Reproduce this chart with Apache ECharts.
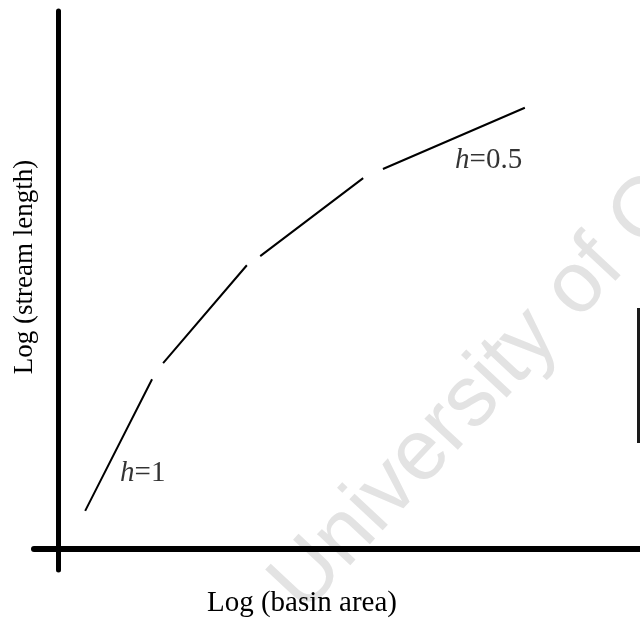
<!DOCTYPE html>
<html>
<head>
<meta charset="utf-8">
<script src="https://cdn.jsdelivr.net/npm/echarts@6/dist/echarts.min.js"></script>
<style>
  html, body { margin: 0; padding: 0; background: #fff; }
  #chart { width: 640px; height: 627px; }
</style>
</head>
<body>
<div id="chart"></div>
<script>
// Piecewise stream-length / basin-area relation, drawn as broken segments.
// Each segment is a pair of points; null separates the pieces.
const logArea   = [4.6, 16.1, null, 18.0, 32.4, null, 34.7, 52.4, null, 55.8, 80.2];
const logLength = [7.0, 31.5, null, 34.5, 52.7, null, 54.4, 68.9, null, 70.6, 82.0];

// Slope annotations: [x, y, exponent text]
const slopeLabels = [
  [10.6, 11.3, '1'],
  [68.2, 69.6, '0.5']
];

const xTitle = 'Log (basin area)';
const yTitle = 'Log (stream length)';
const watermark = 'University of Cape Town';

const serif = '"Liberation Serif", "Times New Roman", serif';

const chart = echarts.init(document.getElementById('chart'));

const option = {
  backgroundColor: '#ffffff',
  animation: false,
  grid: { left: 34, right: 0, top: 11, bottom: 57, containLabel: false },
  xAxis: {
    type: 'value', min: -4.2, max: 100,
    axisLine: { show: true, onZero: true, lineStyle: { color: '#000', width: 6 } },
    axisTick: { show: false }, axisLabel: { show: false }, splitLine: { show: false }
  },
  yAxis: {
    type: 'value', min: -4, max: 100,
    axisLine: { show: true, onZero: true, lineStyle: { color: '#000', width: 5 } },
    axisTick: { show: false }, axisLabel: { show: false }, splitLine: { show: false }
  },
  graphic: [
    {
      type: 'text', z: -10, silent: true,
      x: 318, y: 628, rotation: 47 * Math.PI / 180,
      style: {
        text: watermark, x: 0, y: 0, align: 'left', verticalAlign: 'bottom',
        fill: '#e3e3e3', font: '86px "Liberation Sans", Arial, sans-serif'
      }
    },
    {
      type: 'rect', silent: true,
      shape: { x: 637, y: 308, width: 3, height: 135 },
      style: { fill: '#1a1a1a' }
    },
    {
      type: 'text', silent: true,
      x: 302, y: 618,
      style: {
        text: xTitle, align: 'center', verticalAlign: 'bottom',
        fill: '#000', font: '29px ' + serif
      }
    },
    {
      type: 'text', silent: true,
      x: 25, y: 267, rotation: Math.PI / 2,
      style: {
        text: yTitle, align: 'center', verticalAlign: 'middle',
        fill: '#000', font: '27px ' + serif
      }
    }
  ],
  series: [
    {
      type: 'line',
      data: logArea.map((x, i) => (x === null ? [null, null] : [x, logLength[i]])),
      connectNulls: false,
      showSymbol: false,
      symbol: 'none',
      lineStyle: { color: '#000', width: 2 },
      z: 5
    },
    {
      type: 'scatter',
      symbolSize: 0,
      data: slopeLabels.map(d => ({ value: [d[0], d[1]], exp: d[2] })),
      label: {
        show: true,
        position: [0, 0],
        align: 'left',
        verticalAlign: 'bottom',
        formatter: p => '{i|h}{n|=' + p.data.exp + '}',
        rich: {
          i: { fontFamily: serif, fontSize: 29, fontStyle: 'italic', color: '#000' },
          n: { fontFamily: serif, fontSize: 29, color: '#000' }
        }
      },
      z: 6
    }
  ]
};

chart.setOption(option);
</script>
</body>
</html>
